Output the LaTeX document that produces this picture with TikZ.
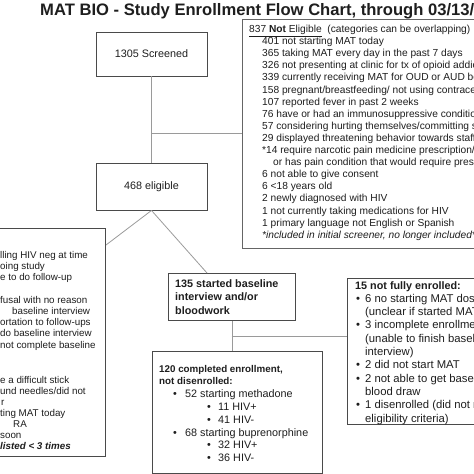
\documentclass[tikz,border=0pt]{standalone}
\usepackage{fontspec}
\setmainfont{Liberation Sans}
\definecolor{boxc}{HTML}{4A4A4A}
\definecolor{connc}{HTML}{9A9A9A}
\definecolor{txt}{HTML}{1E1E1E}
\begin{document}
\begin{tikzpicture}[x=1pt,y=-1pt,
  box/.style={draw=boxc, line width=0.9pt, fill=white, inner sep=0pt, text=txt,
    font=\fontsize{10.8}{13}\selectfont},
  conn/.style={draw=connc, line width=0.8pt},
  tl/.style={anchor=base west, inner sep=0pt, text=txt, font=\fontsize{10.2}{12}\selectfont},
  lb/.style={anchor=base west, inner sep=0pt, text=txt, font=\fontsize{9.8}{12}\selectfont},
  bl/.style={anchor=base west, inner sep=0pt, text=txt, font=\fontsize{10.8}{13}\selectfont},
  fl/.style={bl, font=\fontsize{11.3}{13}\selectfont},
  bb/.style={bl, font=\fontsize{10.8}{13}\selectfont\bfseries},
  cb/.style={bl, font=\fontsize{9.8}{13}\selectfont\bfseries}]
\useasboundingbox (0,0) rectangle (474,474);
\clip (0,0) rectangle (474,474);

% title
\node[anchor=base west, inner sep=0pt, text=txt, font=\fontsize{16.6}{18}\selectfont\bfseries]
  (title) at (40,15) {MAT BIO - Study Enrollment Flow Chart, through 03/13/2019};

% boxes
\node[box, minimum width=111pt, minimum height=44pt] (scr) at (151.5,54) {1305 Screened};
\node[box, minimum width=111pt, minimum height=47pt] (elig) at (151.5,186.5) {468 eligible};
\node[box, draw=boxc!85, anchor=north west, minimum width=260pt, minimum height=229pt] (nel) at (242,19) {};
\node[box, anchor=north east, minimum width=120pt, minimum height=228pt] (lft) at (106,228) {};
\node[box, line width=1.1pt, anchor=north west, minimum width=127pt, minimum height=47pt] (base) at (168,273) {};
\node[box, anchor=north west, minimum width=170pt, minimum height=121.5pt] (comp) at (152,351) {};
\node[box, anchor=north west, minimum width=140pt, minimum height=146pt] (nfe) at (347,278) {};

% connectors
\coordinate (j1) at (151.5,133);
\draw[conn] (scr.south) -- (elig.north);
\draw[conn] (j1) -- (j1 -| nel.west);
\coordinate (lfte) at (106,245);
\coordinate (bt) at (207,273);
\draw[conn] (elig.south) -- (lfte);
\draw[conn] (elig.south) -- (bt);
\draw[conn] (base.south) -- (base.south |- comp.north);
\coordinate (j2) at (231.5,336);
\draw[conn] (j2) -- (j2 -| nfe.west);

% not eligible text
\node[tl] (n0) at (249,32.5) {\underline{837 \textbf{Not} Eligible}\ \ (categories can be overlapping)};
\node[tl] (n1) at (262,44.6) {401 not starting MAT today};
\node[tl] (n2) at (262,56.7) {365 taking MAT every day in the past 7 days};
\node[tl] (n3) at (262,68.8) {326 not presenting at clinic for tx of opioid addiction};
\node[tl] (n4) at (262,80.9) {339 currently receiving MAT for OUD or AUD before};
\node[tl] (n5) at (262,93.0) {158 pregnant/breastfeeding/ not using contraception};
\node[tl] (n6) at (262,105.1) {107 reported fever in past 2 weeks};
\node[tl] (n7) at (262,117.2) {76 have or had an immunosuppressive condition};
\node[tl] (n8) at (262,129.3) {57 considering hurting themselves/committing suicide};
\node[tl] (n9) at (262,141.4) {29 displayed threatening behavior towards staff};
\node[tl] (n10) at (262,153.5) {*14 require narcotic pain medicine prescription/};
\node[tl] (n11) at (273,165.6) {or has pain condition that would require prescription};
\node[tl] (n12) at (262,177.7) {6 not able to give consent};
\node[tl] (n13) at (262,189.8) {6 <18 years old};
\node[tl] (n14) at (262,201.9) {2 newly diagnosed with HIV};
\node[tl] (n15) at (262,214.0) {1 not currently taking medications for HIV};
\node[tl] (n16) at (262,226.1) {1 primary language not English or Spanish};
\node[tl] (n17) at (262,238.2) {\itshape *included in initial screener, no longer included*};

% left box text (cut by the left edge of the picture)
\node[lb] (l1) at (0,258.5) {lling HIV neg at time};
\node[lb] (l2) at (0,269.5) {oing study};
\node[lb] (l3) at (0,280.5) {e to do follow-up};
\node[lb] (l4) at (0,303.5) {fusal with no reason};
\node[lb] (l5) at (12,314.5) {baseline interview};
\node[lb] (l6) at (0,325.5) {ortation to follow-ups};
\node[lb] (l7) at (0,336.5) {do baseline interview};
\node[lb] (l8) at (0,348.5) {not complete baseline};
\node[lb] (l9) at (0,383.5) {e a difficult stick};
\node[lb] (l10) at (0,394.5) {und needles/did not};
\node[lb] (l11) at (1,405.5) {r};
\node[lb] (l12) at (0,416.5) {ting MAT today};
\node[lb] (l13) at (13,427.5) {RA};
\node[lb] (l14) at (0,438.5) {soon};
\node[lb, font=\fontsize{9.8}{12}\selectfont\bfseries\itshape] (l15) at (0,449.5) {listed < 3 times};

% 135 box text
\node[bb] (b1) at (175,287) {135 started baseline};
\node[bb] (b2) at (175,300.5) {interview and/or};
\node[bb] (b3) at (175,314) {bloodwork};

% 120 box text
\node[cb] (c1) at (159,372) {120 completed enrollment,};
\node[cb] (c2) at (159,384.8) {not disenrolled:};
\node[bl] (c3b) at (173,397.6) {•};
\node[bl] (c3) at (185,397.6) {52 starting methadone};
\node[bl] (c4b) at (207,410.4) {•};
\node[bl] (c4) at (218,410.4) {11 HIV+};
\node[bl] (c5b) at (207,423.2) {•};
\node[bl] (c5) at (218,423.2) {41 HIV-};
\node[bl] (c6b) at (173,436) {•};
\node[bl] (c6) at (185,436) {68 starting buprenorphine};
\node[bl] (c7b) at (207,448.8) {•};
\node[bl] (c7) at (218,448.8) {32 HIV+};
\node[bl] (c8b) at (207,461.6) {•};
\node[bl] (c8) at (218,461.6) {36 HIV-};

% 15 box text
\node[bb] (f0) at (355,289) {15 not fully enrolled:};
\node[fl] (f1b) at (356,302.3) {•};
\node[fl] (f1) at (365,302.3) {6 no starting MAT dose};
\node[fl] (f2) at (365,315.6) {(unclear if started MAT)};
\node[fl] (f3b) at (356,328.9) {•};
\node[fl] (f3) at (365,328.9) {3 incomplete enrollment};
\node[fl] (f4) at (365,342.2) {(unable to finish baseline};
\node[fl] (f5) at (365,355.5) {interview)};
\node[fl] (f6b) at (356,368.8) {•};
\node[fl] (f6) at (365,368.8) {2 did not start MAT};
\node[fl] (f7b) at (356,382.1) {•};
\node[fl] (f7) at (365,382.1) {2 not able to get baseline};
\node[fl] (f8) at (365,395.4) {blood draw};
\node[fl] (f9b) at (356,408.7) {•};
\node[fl] (f9) at (365,408.7) {1 disenrolled (did not meet};
\node[fl] (f10) at (365,422) {eligibility criteria)};
\end{tikzpicture}
\end{document}
